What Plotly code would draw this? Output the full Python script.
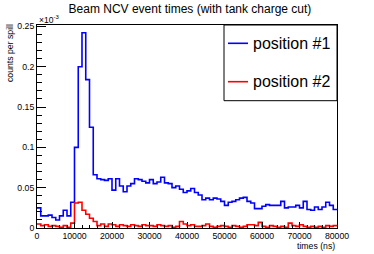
import plotly.graph_objects as go

# ---- data (bin width 1000 ns, 0..80000 ns) ----
bin_edges = list(range(0, 81000, 1000))

position1 = [
    0.025, 0.015, 0.015, 0.016, 0.013, 0.010, 0.015, 0.022, 0.015, 0.032,
    0.100, 0.200, 0.242, 0.184, 0.125, 0.066, 0.061, 0.060, 0.059, 0.061,
    0.047, 0.061, 0.052, 0.045, 0.052, 0.055, 0.061, 0.060, 0.058, 0.056,
    0.060, 0.055, 0.057, 0.063, 0.056, 0.055, 0.050, 0.052, 0.048, 0.044,
    0.046, 0.049, 0.044, 0.041, 0.035, 0.037, 0.035, 0.037, 0.036, 0.033,
    0.028, 0.032, 0.033, 0.035, 0.037, 0.038, 0.033, 0.031, 0.024, 0.024,
    0.027, 0.029, 0.028, 0.028, 0.028, 0.033, 0.025, 0.026, 0.026, 0.028,
    0.025, 0.033, 0.023, 0.022, 0.026, 0.023, 0.026, 0.032, 0.028, 0.023,
]

position2 = [
    0.005, 0.003, 0.004, 0.002, 0.003, 0.002, 0.001, 0.003, 0.001, 0.006,
    0.031, 0.032, 0.022, 0.017, 0.012, 0.008, 0.003, 0.005, 0.002, 0.005,
    0.004, 0.002, 0.004, 0.003, 0.002, 0.004, 0.003, 0.002, 0.004, 0.003,
    0.003, 0.002, 0.004, 0.003, 0.002, 0.003, 0.001, 0.002, 0.008, 0.005,
    0.003, 0.004, 0.002, 0.002, 0.003, 0.005, 0.002, 0.001, 0.002, 0.003,
    0.002, 0.001, 0.003, 0.002, 0.001, 0.002, 0.004, 0.004, 0.003, 0.007,
    0.002, 0.001, 0.003, 0.002, 0.001, 0.002, 0.001, 0.006, 0.003, 0.002,
    0.004, 0.002, 0.001, 0.002, 0.001, 0.002, 0.001, 0.003, 0.002, 0.003,
]

series_names = ["position #1", "position #2"]
series_colors = ["#0000ff", "#ff0000"]

title_text = "Beam NCV event times (with tank charge cut)"
x_title = "times (ns)"
y_title = "counts per spill"
x_tickvals = list(range(0, 80001, 10000))
x_ticktext = [str(v) for v in x_tickvals]
y_tickvals = [0, 0.05, 0.1, 0.15, 0.2, 0.25]
y_ticktext = ["0", "0.05", "0.1", "0.15", "0.2", "0.25"]

FONT = "Liberation Sans, Arial, Helvetica, sans-serif"

fig = go.Figure()
for name, vals, col in zip(series_names, [position1, position2], series_colors):
    fig.add_trace(go.Scatter(
        x=bin_edges, y=vals + [vals[-1]], name=name, mode="lines",
        line=dict(color=col, width=1.6, shape="hv"), showlegend=False,
    ))

W, H = 374, 254
L, R, T, B = 37, 37, 25, 26
pw, ph = W - L - R, H - T - B

def px_x(p):
    return (p - L) / pw

def px_y(p):
    return (H - B - p) / ph

fig.update_layout(
    width=W, height=H,
    margin=dict(l=L, r=R, t=T, b=B, pad=0, autoexpand=False),
    paper_bgcolor="white", plot_bgcolor="white",
    font=dict(family=FONT, color="black"),
    title=dict(text=title_text, x=0.508, xref="container", xanchor="center",
               y=1 - 8.5 / H, yref="container", yanchor="middle",
               font=dict(size=12, family=FONT, color="black")),
    xaxis=dict(range=[0, 80000], tickvals=x_tickvals, ticktext=x_ticktext,
               showgrid=False, zeroline=False, automargin=False,
               ticks="inside", ticklen=6, tickcolor="black", tickwidth=1,
               showline=True, linecolor="black", linewidth=1, mirror=True,
               tickfont=dict(size=8.7, family=FONT, color="black"),
               minor=dict(dtick=2000, ticks="inside", ticklen=3, tickcolor="black")),
    yaxis=dict(range=[0, 0.2517], tickvals=y_tickvals, ticktext=y_ticktext,
               showgrid=False, zeroline=False, automargin=False,
               ticks="inside", ticklen=9, tickcolor="black", tickwidth=1,
               showline=True, linecolor="black", linewidth=1, mirror=True,
               tickfont=dict(size=8.7, family=FONT, color="black"),
               minor=dict(dtick=0.01, ticks="inside", ticklen=4.5, tickcolor="black")),
)

# axis titles and exponent (ROOT style, right/top aligned)
fig.add_annotation(text=x_title, xref="paper", yref="paper", x=1.0, y=px_y(246),
                   xanchor="right", yanchor="middle", showarrow=False,
                   font=dict(size=8.7, family=FONT, color="black"))
fig.add_annotation(text=y_title, xref="paper", yref="paper", x=px_x(10), y=px_y(22),
                   xanchor="center", yanchor="top", textangle=-90, showarrow=False,
                   font=dict(size=8.7, family=FONT, color="black"))
fig.add_annotation(text="×10<sup>-3</sup>", xref="paper", yref="paper", x=0.0, y=px_y(20),
                   xanchor="left", yanchor="middle", showarrow=False,
                   font=dict(size=8.5, family=FONT, color="black"))

# legend box
fig.add_shape(type="rect", xref="paper", yref="paper",
              x0=px_x(224), x1=1.0, y0=px_y(100.7), y1=1.0,
              line=dict(color="black", width=1), fillcolor="white", layer="above")
for name, col, yc in zip(series_names, series_colors, [43.3, 81.7]):
    fig.add_shape(type="line", xref="paper", yref="paper",
                  x0=px_x(228), x1=px_x(248), y0=px_y(yc), y1=px_y(yc),
                  line=dict(color=col, width=1.6), layer="above")
    fig.add_annotation(text=name, xref="paper", yref="paper", x=px_x(251), y=px_y(yc),
                       xanchor="left", yanchor="middle", showarrow=False,
                       font=dict(size=16, family=FONT, color="black"))

fig.write_html("out.html", config={"displayModeBar": False},
               post_script="document.body.style.margin='0';document.body.style.padding='0';")
